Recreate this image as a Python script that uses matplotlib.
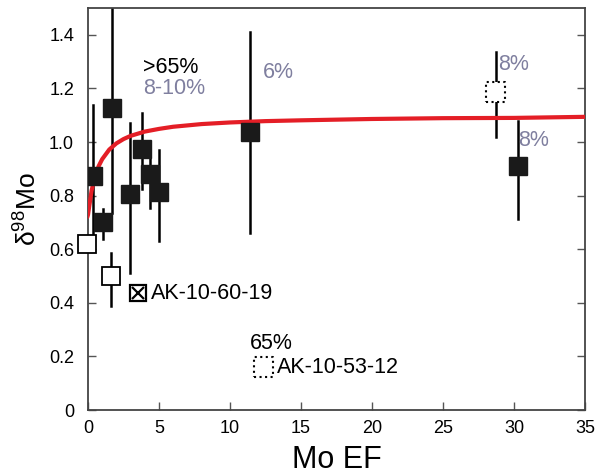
import numpy as np
import matplotlib.pyplot as plt

plt.rcParams['font.family'] = ['Liberation Sans', 'DejaVu Sans']
plt.rcParams['mathtext.fontset'] = 'custom'
plt.rcParams['mathtext.rm'] = 'Liberation Sans'
plt.rcParams['mathtext.it'] = 'Liberation Sans:italic'

# filled squares (samples)
filled_x = [0.33, 1.03, 1.67, 2.96, 3.8, 4.4, 5.0, 11.4, 30.3]
filled_y = [0.875, 0.703, 1.126, 0.807, 0.975, 0.88, 0.815, 1.037, 0.912]
filled_lo = [0.60, 0.64, 0.737, 0.51, 0.825, 0.755, 0.63, 0.66, 0.713]
filled_hi = [1.14, 0.75, 1.51, 1.07, 1.107, 0.95, 0.97, 1.41, 1.08]

# open squares
open_x = [-0.1, 1.6]
open_y = [0.62, 0.50]
open_lo = [0.62, 0.39]
open_hi = [0.62, 0.585]

# crossed square
cross_x = [3.5]
cross_y = [0.436]

# dotted squares
dot_x = [28.7, 12.35]
dot_y = [1.187, 0.16]
dot_lo = [1.017, 0.16]
dot_hi = [1.337, 0.16]

# red fit curve
curve_x = [-0.05, 0.0, 0.25, 0.5, 0.75, 1.0, 1.5, 2.0, 2.5, 3.0, 4.0, 5.0, 6.0,
           8.0, 10.0, 12.5, 15.0, 20.0, 25.0, 30.0, 35.0]
curve_y = [0.72, 0.729, 0.818, 0.873, 0.910, 0.936, 0.972, 0.995, 1.011, 1.023,
           1.039, 1.049, 1.057, 1.067, 1.073, 1.078, 1.081, 1.086, 1.089, 1.090, 1.094]

gris = '#7f7f9f'

fig = plt.figure(figsize=(5.97, 4.75), dpi=100)
ax = fig.add_axes([0.1474, 0.1368, 0.8325, 0.8463])

# barres d'erreur
def barres(xs, lo, hi):
    for x, a, b in zip(xs, lo, hi):
        if b > a:
            ax.plot([x, x], [a, b], color='black', lw=1.8, zorder=2)

barres(filled_x, filled_lo, filled_hi)
barres(open_x, open_lo, open_hi)
barres(dot_x, dot_lo, dot_hi)

ax.plot(curve_x, curve_y, color='#e41e26', lw=3, zorder=3, solid_capstyle='round')

ax.plot(filled_x, filled_y, 's', color='#1a1a1a', markersize=13, zorder=4, ls='none')
ax.plot(open_x, open_y, 's', mfc='white', mec='black', mew=1.3, markersize=12.5,
        zorder=4, ls='none', clip_on=False)
ax.plot(cross_x, cross_y, 's', mfc='white', mec='black', mew=1.6, markersize=12, zorder=4, ls='none')
ax.plot(cross_x, cross_y, 'x', color='black', mew=1.6, markersize=9, zorder=5, ls='none')
ax.scatter(dot_x, dot_y, marker='s', s=200, facecolors='white', edgecolors='black',
           linewidths=1.5, linestyles=':', zorder=4)

# textes
fs = 15.5
ax.text(3.9, 1.278, '>65%', fontsize=fs, color='black', va='center')
ax.text(3.9, 1.2, '8-10%', fontsize=fs, color=gris, va='center')
ax.text(12.3, 1.26, '6%', fontsize=fs, color=gris, va='center')
ax.text(28.9, 1.29, '8%', fontsize=fs, color=gris, va='center')
ax.text(30.3, 1.006, '8%', fontsize=fs, color=gris, va='center')
ax.text(11.4, 0.25, '65%', fontsize=fs, color='black', va='center')
ax.text(13.3, 0.16, 'AK-10-53-12', fontsize=fs, color='black', va='center')
ax.text(4.4, 0.436, 'AK-10-60-19', fontsize=fs, color='black', va='center')

ax.set_xlim(0, 35)
ax.set_ylim(0, 1.5)
ax.set_xticks(np.arange(0, 36, 5))
ax.set_yticks([0, 0.2, 0.4, 0.6, 0.8, 1.0, 1.2, 1.4])
ax.set_yticklabels(['0', '0.2', '0.4', '0.6', '0.8', '1.0', '1.2', '1.4'])
ax.tick_params(direction='in', right=True, top=False, length=6, width=1,
               color='#555555', labelsize=13)
ax.tick_params(axis='x', pad=7)
ax.tick_params(axis='y', pad=10)
for s in ax.spines.values():
    s.set_color('#444444')
    s.set_linewidth(1.3)

ax.set_xlabel('Mo EF', fontsize=22, labelpad=6)
ax.set_ylabel(r'δ$^{98}$Mo', fontsize=19, labelpad=5)

plt.savefig('out.png', dpi=100)
